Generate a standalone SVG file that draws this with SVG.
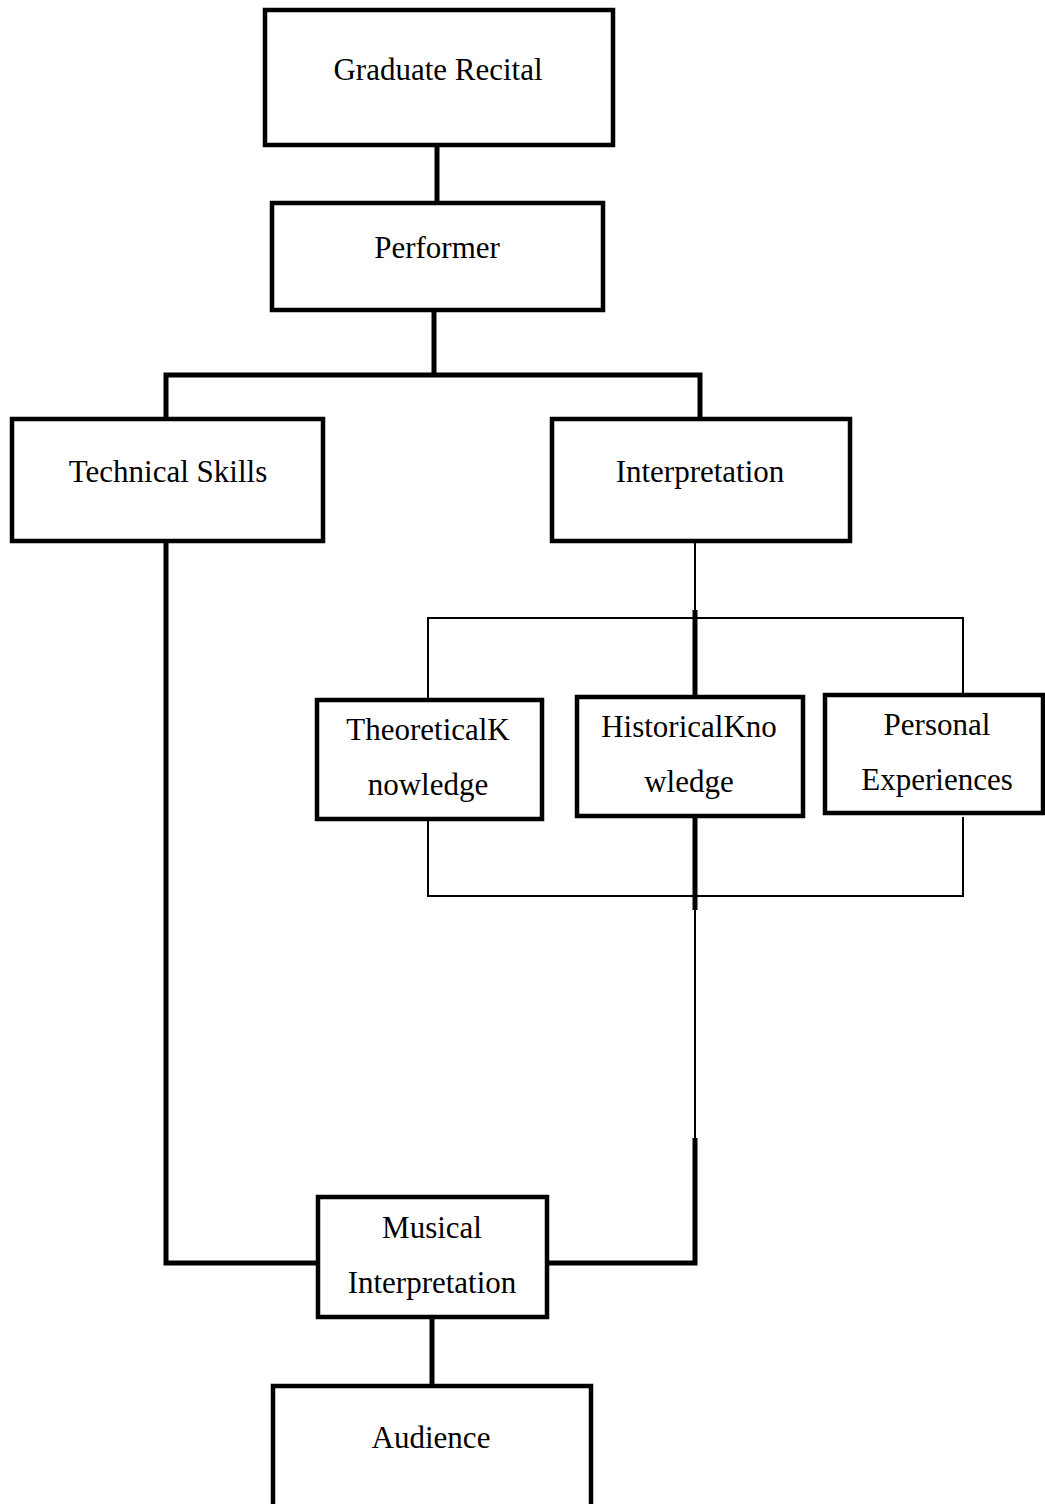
<svg xmlns="http://www.w3.org/2000/svg" width="1045" height="1504" viewBox="0 0 1045 1504">
<style>
.box{fill:#fff;stroke:#000;stroke-width:4.5}
.t{font-family:"Liberation Serif","Times New Roman",serif;font-size:31px;fill:#000;text-anchor:middle}
.thick{fill:none;stroke:#000;stroke-width:5}
.thin{fill:none;stroke:#000;stroke-width:2}
</style>
<rect width="1045" height="1504" fill="#fff"/>
<g id="connectors">
<line class="thick" x1="437" y1="145" x2="437" y2="203"/>
<line class="thick" x1="434" y1="310" x2="434" y2="375"/>
<polyline class="thick" points="166,419 166,375 700,375 700,419"/>
<line class="thin" x1="695" y1="541" x2="695" y2="612"/>
<line class="thick" x1="695" y1="610" x2="695" y2="697"/>
<polyline class="thin" points="428,700 428,618 963,618 963,695"/>
<polyline class="thin" points="428,819 428,896 963,896 963,817"/>
<line class="thick" x1="695" y1="816" x2="695" y2="910"/>
<line class="thin" x1="695" y1="908" x2="695" y2="1140"/>
<polyline class="thick" points="695,1138 695,1263 547,1263"/>
<polyline class="thick" points="166,541 166,1263 318,1263"/>
<line class="thick" x1="432" y1="1317" x2="432" y2="1386"/>
</g>
<g id="graduate-recital">
<rect class="box" x="265" y="10" width="348" height="135"/>
<text class="t" x="438" y="80">Graduate Recital</text>
</g>
<g id="performer">
<rect class="box" x="272" y="203" width="331" height="107"/>
<text class="t" x="437" y="258">Performer</text>
</g>
<g id="technical-skills">
<rect class="box" x="12" y="419" width="311" height="122"/>
<text class="t" x="168" y="482">Technical Skills</text>
</g>
<g id="interpretation">
<rect class="box" x="552" y="419" width="298" height="122"/>
<text class="t" x="700" y="482">Interpretation</text>
</g>
<g id="theoretical-knowledge">
<rect class="box" x="317" y="700" width="225" height="119"/>
<text class="t" x="428" y="740">TheoreticalK</text>
<text class="t" x="428" y="795">nowledge</text>
</g>
<g id="historical-knowledge">
<rect class="box" x="577" y="697" width="226" height="119"/>
<text class="t" x="689" y="737">HistoricalKno</text>
<text class="t" x="689" y="792">wledge</text>
</g>
<g id="personal-experiences">
<rect class="box" x="825" y="695" width="218" height="118"/>
<text class="t" x="937" y="735">Personal</text>
<text class="t" x="937" y="790">Experiences</text>
</g>
<g id="musical-interpretation">
<rect class="box" x="318" y="1197" width="229" height="120"/>
<text class="t" x="432" y="1238">Musical</text>
<text class="t" x="432" y="1293">Interpretation</text>
</g>
<g id="audience">
<rect class="box" x="273" y="1386" width="318" height="130"/>
<text class="t" x="431" y="1448">Audience</text>
</g>
</svg>
